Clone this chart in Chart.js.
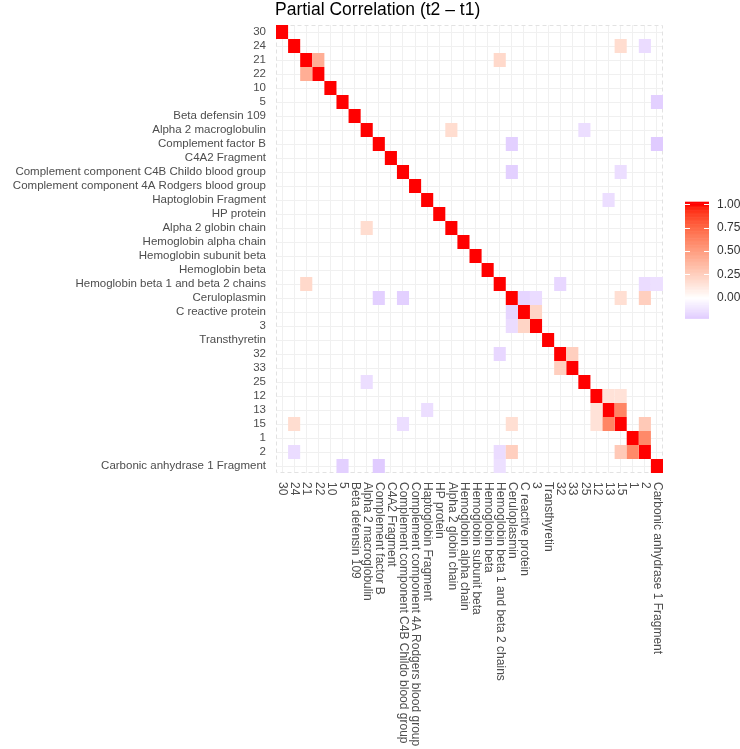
<!DOCTYPE html>
<html>
<head>
<meta charset="utf-8">
<title>Partial Correlation (t2 – t1)</title>
<script src="https://cdn.jsdelivr.net/npm/chart.js@4.4.1/dist/chart.umd.min.js"></script>
<style>
    body { margin: 0; background: #ffffff; }
    canvas { display: block; }
</style>
</head>
<body>
<canvas id="heat" width="740" height="749"></canvas>
<script>
// row / column names, top to bottom and left to right
const proteins = [
    '30', '24', '21', '22', '10', '5', 'Beta defensin 109', 'Alpha 2 macroglobulin',
    'Complement factor B', 'C4A2 Fragment', 'Complement component C4B Childo blood group',
    'Complement component 4A Rodgers blood group', 'Haptoglobin Fragment', 'HP protein',
    'Alpha 2 globin chain', 'Hemoglobin alpha chain', 'Hemoglobin subunit beta', 'Hemoglobin beta',
    'Hemoglobin beta 1 and beta 2 chains', 'Ceruloplasmin', 'C reactive protein', '3',
    'Transthyretin', '32', '33', '25', '12', '13', '15', '1', '2', 'Carbonic anhydrase 1 Fragment'
];

// off-diagonal partial correlations (matrix is symmetric, diagonal = 1)
const pairRow   = [2,    7,    1,    1,     2,    5,     7,     8,     8,     10,    10,    12,    18,    18,    18,    19,    19,    19,   19,   20,   23,   26,   26,   27,   28,   29];
const pairCol   = [3,    14,   28,   30,    18,   31,    25,    19,    31,    19,    28,    27,    23,    30,    31,    20,    21,    28,   30,   21,   24,   27,   28,   28,   30,   30];
const pairValue = [0.42, 0.18, 0.18, -0.15, 0.2, -0.2, -0.14, -0.2, -0.22, -0.2, -0.14, -0.14, -0.17, -0.15, -0.13, -0.18, -0.15, 0.17, 0.25, 0.22, 0.25, 0.15, 0.15, 0.62, 0.28, 0.6];

const legendTicks = [0, 0.25, 0.5, 0.75, 1];
const legendMin = -0.22;
const legendMax = 1.028;

// --- colour scale: white -> red / white -> blue, interpolated in Lab like ggplot
function lin( c )
{
    c = c / 255;
    return c <= 0.04045 ? c / 12.92 : Math.pow( (c + 0.055) / 1.055, 2.4 );
}

function unlin( c )
{
    let v = c <= 0.0031308 ? 12.92 * c : 1.055 * Math.pow( c, 1 / 2.4 ) - 0.055;
    return Math.round( Math.max( 0, Math.min( 1, v ) ) * 255 );
}

function toLab( rgb )
{
    let r = lin( rgb[ 0 ] ), g = lin( rgb[ 1 ] ), b = lin( rgb[ 2 ] );
    let x = (0.4124 * r + 0.3576 * g + 0.1805 * b) / 0.95047;
    let y = (0.2126 * r + 0.7152 * g + 0.0722 * b);
    let z = (0.0193 * r + 0.1192 * g + 0.9505 * b) / 1.08883;
    const f = t => t > 0.008856 ? Math.cbrt( t ) : 7.787 * t + 16 / 116;
    let fx = f( x ), fy = f( y ), fz = f( z );
    return [ 116 * fy - 16, 500 * (fx - fy), 200 * (fy - fz) ];
}

function fromLab( lab )
{
    let fy = (lab[ 0 ] + 16) / 116;
    let fx = fy + lab[ 1 ] / 500;
    let fz = fy - lab[ 2 ] / 200;
    const finv = t => t * t * t > 0.008856 ? t * t * t : (t - 16 / 116) / 7.787;
    let x = finv( fx ) * 0.95047, y = finv( fy ), z = finv( fz ) * 1.08883;
    let r = 3.2406 * x - 1.5372 * y - 0.4986 * z;
    let g = -0.9689 * x + 1.8758 * y + 0.0415 * z;
    let b = 0.0557 * x - 0.2040 * y + 1.0570 * z;
    return [ unlin( r ), unlin( g ), unlin( b ) ];
}

const LAB_WHITE = toLab( [ 255, 255, 255 ] );
const LAB_RED = toLab( [ 255, 0, 0 ] );
const LAB_BLUE = toLab( [ 0, 0, 255 ] );

function colourFor( v )
{
    let target = v >= 0 ? LAB_RED : LAB_BLUE;
    let t = Math.min( 1, Math.abs( v ) );
    let lab = LAB_WHITE.map( ( w, k ) => w + (target[ k ] - w) * t );
    let c = fromLab( lab );
    return 'rgb(' + c[ 0 ] + ',' + c[ 1 ] + ',' + c[ 2 ] + ')';
}

// --- build the cells
function buildCells()
{
    let cells = [];
    for ( let i = 0; i < proteins.length; i++ )
    {
        cells.push( { x: proteins[ i ], y: proteins[ i ], v: 1 } );
    }
    for ( let k = 0; k < pairRow.length; k++ )
    {
        let a = proteins[ pairRow[ k ] ], b = proteins[ pairCol[ k ] ];
        cells.push( { x: b, y: a, v: pairValue[ k ] } );
        cells.push( { x: a, y: b, v: pairValue[ k ] } );
    }
    return cells;
}

const AXIS_TEXT = '#4d4d4d';
const FONT = '"Liberation Sans", Arial, Helvetica, sans-serif';

const heatPlugin = {
    id: 'heatCells',
    beforeDatasetsDraw( chart )
    {
        const ctx = chart.ctx;
        const area = chart.chartArea;
        const xs = chart.scales.x, ys = chart.scales.y;
        const w = Math.abs( xs.getPixelForValue( 1 ) - xs.getPixelForValue( 0 ) );
        const h = Math.abs( ys.getPixelForValue( 1 ) - ys.getPixelForValue( 0 ) );
        const meta = chart.getDatasetMeta( 0 );
        const data = chart.data.datasets[ 0 ].data;
        ctx.save();
        // dashed panel border, under the tiles
        ctx.strokeStyle = '#e2e2e2';
        ctx.lineWidth = 1;
        ctx.setLineDash( [ 4, 3 ] );
        ctx.strokeRect( area.left + 0.5, area.top + 0.5, area.right - area.left - 1, area.bottom - area.top - 1 );
        ctx.setLineDash( [] );

        meta.data.forEach( ( pt, k ) =>
        {
            ctx.fillStyle = colourFor( data[ k ].v );
            ctx.fillRect( pt.x - w / 2, pt.y - h / 2, w, h );
        } );
        ctx.restore();
    },
    afterDraw( chart )
    {
        const ctx = chart.ctx;
        const area = chart.chartArea;
        const xs = chart.scales.x;

        ctx.save();
        // title
        ctx.fillStyle = '#000000';
        ctx.font = '17.5px ' + FONT;
        ctx.textAlign = 'left';
        ctx.textBaseline = 'alphabetic';
        ctx.fillText( 'Partial Correlation (t2 \u2013 t1)', area.left - 1, 15 );

        // x labels, reading downwards
        ctx.fillStyle = AXIS_TEXT;
        ctx.font = '12px ' + FONT;
        ctx.textBaseline = 'middle';
        proteins.forEach( ( name, i ) =>
        {
            ctx.save();
            ctx.translate( xs.getPixelForValue( i ) + 0.5, area.bottom + 9 );
            ctx.rotate( Math.PI / 2 );
            ctx.fillText( name, 0, 0 );
            ctx.restore();
        } );

        // colour bar legend
        const barL = 685, barW = 24;
        const yFor = v => 297.7 - (v * 93.4);
        const steps = 150;
        for ( let s = 0; s < steps; s++ )
        {
            let v0 = legendMin + (legendMax - legendMin) * s / steps;
            let v1 = legendMin + (legendMax - legendMin) * (s + 1) / steps;
            ctx.fillStyle = colourFor( (v0 + v1) / 2 );
            ctx.fillRect( barL, yFor( v1 ), barW, yFor( v0 ) - yFor( v1 ) + 0.6 );
        }
        ctx.strokeStyle = '#ffffff';
        ctx.lineWidth = 1;
        ctx.fillStyle = '#333333';
        ctx.font = '12px ' + FONT;
        ctx.textAlign = 'left';
        ctx.textBaseline = 'middle';
        legendTicks.forEach( t =>
        {
            let y = Math.round( yFor( t ) ) + 0.5;
            ctx.beginPath();
            ctx.moveTo( barL, y );
            ctx.lineTo( barL + 5, y );
            ctx.moveTo( barL + barW - 5, y );
            ctx.lineTo( barL + barW, y );
            ctx.stroke();
            ctx.fillText( t.toFixed( 2 ), 717, yFor( t ) );
        } );
        ctx.restore();
    }
};

const heatConfig = {
    type: 'scatter',
    data: {
        datasets: [
            {
                label: 'Partial correlation',
                data: buildCells(),
                pointRadius: 0,
                pointHoverRadius: 0,
                showLine: false
            }
        ]
    },
    options: {
        responsive: false,
        animation: false,
        events: [],
        layout: {
            padding: { top: 25, right: 77, bottom: 0, left: 0 }
        },
        plugins: {
            legend: { display: false },
            title: { display: false },
            tooltip: { enabled: false }
        },
        scales: {
            x: {
                type: 'category',
                labels: proteins,
                offset: true,
                border: { display: false },
                grid: { offset: false, color: '#f0f0f0', drawTicks: false },
                ticks: { display: false },
                afterFit: function ( scale )
                {
                    scale.height = 276;
                }
            },
            y: {
                type: 'category',
                labels: proteins,
                offset: true,
                border: { display: false },
                grid: { offset: false, color: '#f0f0f0', drawTicks: false },
                ticks: {
                    autoSkip: false,
                    padding: 10,
                    color: AXIS_TEXT,
                    font: { family: FONT, size: 11.5 }
                },
                afterFit: function ( scale )
                {
                    scale.width = 276;
                }
            }
        }
    },
    plugins: [ heatPlugin ]
};

new Chart( document.getElementById( 'heat' ).getContext( '2d' ), heatConfig );
</script>
</body>
</html>
